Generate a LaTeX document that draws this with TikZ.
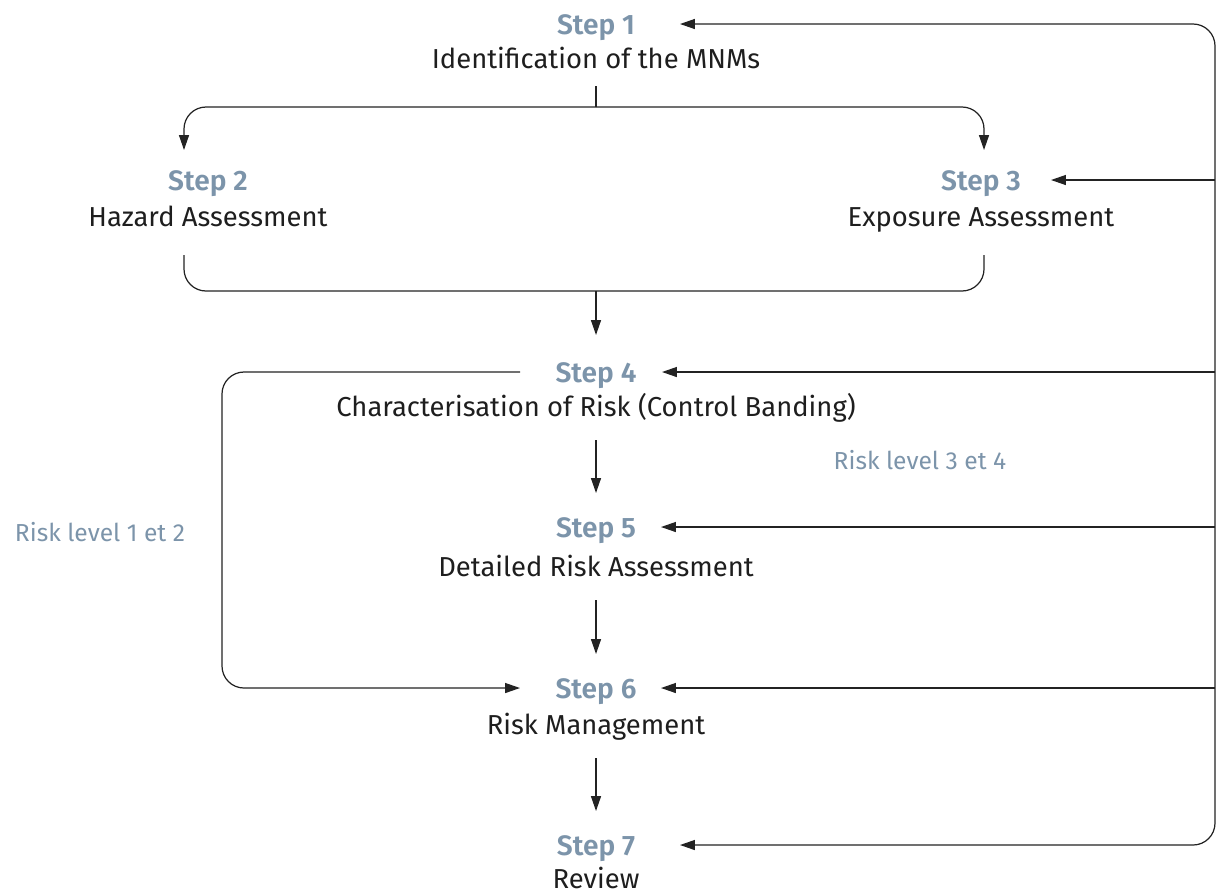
\documentclass[tikz,border=0pt]{standalone}
\usepackage{fontspec}
\setmainfont{Fira Sans}[BoldFont={Fira Sans SemiBold}]
\usetikzlibrary{arrows.meta}

\definecolor{step_blau}{RGB}{124,148,170}
\definecolor{linie_grau}{RGB}{35,35,35}
\definecolor{text_schwarz}{RGB}{30,30,30}

\begin{document}
\begin{tikzpicture}[
      x=0.02cm, y=-0.02cm,
      every node/.style={
        inner sep=0pt,
        outer sep=0pt,
        anchor=base
      },
      steplabel/.style={
        font=\fontsize{16}{19}\selectfont\bfseries,
        text=step_blau
      },
      desc/.style={
        font=\fontsize{15.6}{19}\selectfont,
        text=text_schwarz
      },
      risklabel/.style={
        font=\fontsize{14}{17}\selectfont,
        text=step_blau
      },
      verbindung/.style={
        draw=linie_grau,
        line width=0.7pt,
        rounded corners=12.5pt
      },
      >={Triangle[length=8.5pt,width=5.7pt]}
    ]

      \useasboundingbox (0,0) rectangle (1216,894);

      % Schritte
      \node[steplabel] (s1) at (596,34) {Step 1};
      \node[desc] (d1) at (596,68) {Identification of the MNMs};
      \node[steplabel] (s2) at (208,190) {Step 2};
      \node[desc] (d2) at (208,226) {Hazard Assessment};
      \node[steplabel] (s3) at (981,190) {Step 3};
      \node[desc] (d3) at (981,226) {Exposure Assessment};
      \node[steplabel] (s4) at (596,382) {Step 4};
      \node[desc] (d4) at (596,416) {Characterisation of Risk (Control Banding)};
      \node[steplabel] (s5) at (596,537) {Step 5};
      \node[desc] (d5) at (596,576) {Detailed Risk Assessment};
      \node[steplabel] (s6) at (596,698) {Step 6};
      \node[desc] (d6) at (596,734) {Risk Management};
      \node[steplabel] (s7) at (596,855) {Step 7};
      \node[desc] (d7) at (596,888) {Review};

      % Risikostufen
      \node[risklabel] (r34) at (920,469) {Risk level 3 et 4};
      \node[risklabel] (r12) at (100,541) {Risk level 1 et 2};

      % Hilfspunkte
      \coordinate (v1) at (596,107);
      \coordinate (v2) at (596,291);
      \coordinate (rt) at (1215,0);
      \coordinate (lk) at (222,0);
      \foreach \s/\dx in {s1/84,s3/70,s4/66,s5/65,s6/65,s7/84}
        \coordinate (\s-r) at ([shift={(\dx,-10)}]\s.base);
      \foreach \s in {s4,s6}
        \coordinate (\s-l) at ([shift={(-76,-10)}]\s.base);

      % Verzweigung Schritt 1
      \draw[verbindung] ([shift={(0,18)}]d1.base) -- (v1);
      \draw[verbindung,->] (v1) -| ([shift={(-24,-40)}]s2.base);
      \draw[verbindung,->] (v1) -| ([shift={(3,-40)}]s3.base);

      % Zusammenfuehrung
      \draw[verbindung] ([shift={(-24,29)}]d2.base) |- (v2) -| ([shift={(3,29)}]d3.base);
      \draw[verbindung,->] (v2) -- ([shift={(0,-47)}]s4.base);

      % Hauptpfad
      \foreach \a/\b in {d4/s5,d5/s6,d6/s7}
        \draw[verbindung,->] ([shift={(0,24)}]\a.base) -- ([shift={(0,-44)}]\b.base);

      % Risk level 1 et 2
      \draw[verbindung,->] (s4-l) -- (lk |- s4-l) -- (lk |- s6-l) -- (s6-l);

      % Rueckfuehrung rechts
      \draw[verbindung,<->] (s1-r) -- (rt |- s1-r) -- (rt |- s7-r) -- (s7-r);
      \foreach \s in {s3,s4,s5,s6}
        \draw[verbindung,->] (rt |- \s-r) -- (\s-r);
    \end{tikzpicture}
\end{document}
